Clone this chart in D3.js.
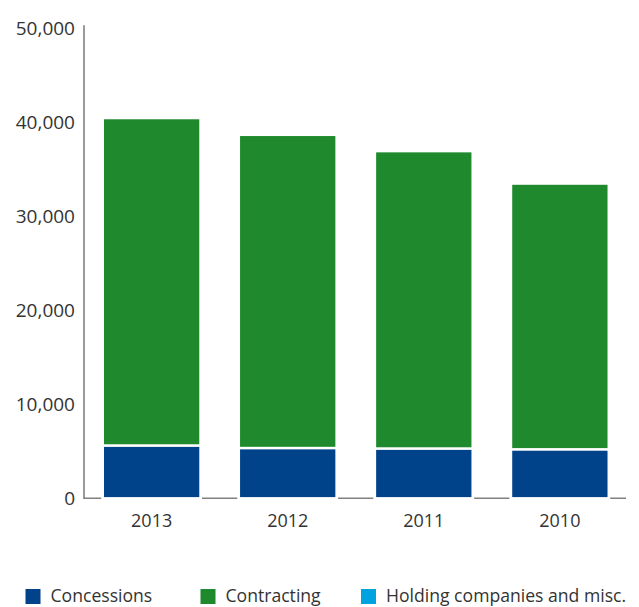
<!DOCTYPE html>
<html>
<head>
<meta charset="utf-8">
<script src="https://cdn.jsdelivr.net/npm/d3@7"></script>
<style>
  html, body { margin: 0; padding: 0; background: #fff; }
  svg { display: block; font-family: "Open Sans", "Noto Sans", sans-serif; }
</style>
</head>
<body>
<svg id="chart" width="639" height="607"></svg>
<script>
// Revenue by business segment, stacked per year
const years = ["2013", "2012", "2011", "2010"];
const concessions = [5620, 5350, 5300, 5215];
const contracting = [34830, 33315, 31630, 28265];
const holding = [0, 0, 0, 0];
const seriesNames = ["Concessions", "Contracting", "Holding companies and misc."];
const seriesColors = ["#00438a", "#1e8a2d", "#00a3e0"];
const yTicks = [0, 10000, 20000, 30000, 40000, 50000];

const rows = years.map((y, i) => ({
  year: y,
  Concessions: concessions[i],
  Contracting: contracting[i],
  "Holding companies and misc.": holding[i]
}));

const svg = d3.select("#chart");
const axisColor = "#808080";
const textColor = "#333333";

const x = d3.scaleBand()
  .domain(years)
  .range([84, 627.5])
  .paddingInner(0.282)
  .paddingOuter(0.138);

const y = d3.scaleLinear()
  .domain([0, 50000])
  .range([498.3, 28.3]);

// baseline along the bottom
svg.append("line")
  .attr("x1", 84).attr("x2", 626)
  .attr("y1", y(0)).attr("y2", y(0))
  .attr("stroke", axisColor).attr("stroke-width", 1.6);

// vertical axis line
svg.append("line")
  .attr("x1", 84).attr("x2", 84)
  .attr("y1", y(50000) - 3).attr("y2", y(0) + 0.8)
  .attr("stroke", axisColor).attr("stroke-width", 1.6);

// tick labels on the value axis
const yAxis = d3.axisLeft(y)
  .tickValues(yTicks)
  .tickFormat(d3.format(","))
  .tickSize(0)
  .tickPadding(0);
const yg = svg.append("g").attr("transform", "translate(75,0)").call(yAxis);
yg.select(".domain").remove();
yg.selectAll("text")
  .attr("fill", textColor)
  .style("font-size", "19px")
  .style("font-family", "'Open Sans', 'Noto Sans', sans-serif")
  .attr("dy", "0.34em");

// stacked bars
const stack = d3.stack().keys(seriesNames);
const layers = stack(rows);

// white clearance where the bars sit on the baseline
svg.append("g").selectAll("rect")
  .data(years)
  .join("rect")
  .attr("x", d => x(d) - 1.5)
  .attr("width", x.bandwidth() + 3)
  .attr("y", y(0) - 4)
  .attr("height", 6)
  .attr("fill", "#fff");

svg.append("g").selectAll("g")
  .data(layers)
  .join("g")
  .attr("fill", (d, i) => seriesColors[i])
  .selectAll("rect")
  .data(d => d.filter(p => p[1] - p[0] > 0))
  .join("rect")
  .attr("x", d => x(d.data.year))
  .attr("width", x.bandwidth())
  .attr("y", d => y(d[1]))
  .attr("height", d => y(d[0]) - y(d[1]))
  .attr("stroke", "#fff")
  .attr("stroke-width", 2.4);

// category labels
const xAxis = d3.axisBottom(x).tickSize(0).tickPadding(0);
const xg = svg.append("g").attr("transform", "translate(0,527)").call(xAxis);
xg.select(".domain").remove();
xg.selectAll("text")
  .attr("fill", textColor)
  .attr("dy", 0)
  .attr("y", 0)
  .style("font-size", "18px")
  .style("font-family", "'Open Sans', 'Noto Sans', sans-serif");

// legend
const legendX = [25.5, 200.5, 361];
const legend = svg.append("g").selectAll("g")
  .data(seriesNames)
  .join("g")
  .attr("transform", (d, i) => `translate(${legendX[i]},589)`);
legend.append("rect")
  .attr("width", 15).attr("height", 15)
  .attr("fill", (d, i) => seriesColors[i]);
legend.append("text")
  .attr("x", 25).attr("y", 13)
  .attr("fill", textColor)
  .style("font-size", "17.6px")
  .text(d => d);
</script>
</body>
</html>
